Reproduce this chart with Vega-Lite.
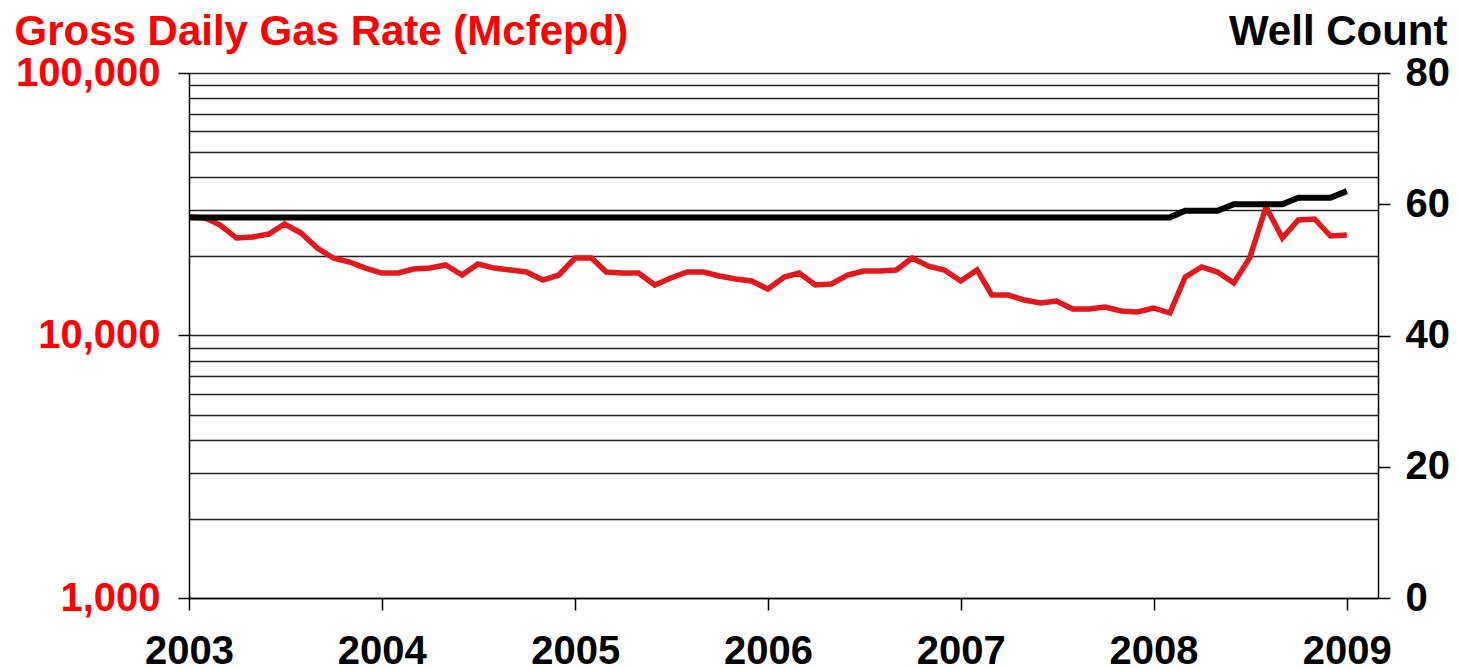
{
  "$schema": "https://vega.github.io/schema/vega-lite/v6.json",
  "width": 1189,
  "height": 525,
  "autosize": "none",
  "padding": {"left": 189, "top": 73, "right": 80, "bottom": 70},
  "background": "white",
  "config": {
    "view": {"stroke": null},
    "font": "Liberation Sans",
    "axis": {"labelFont": "Liberation Sans", "titleFont": "Liberation Sans", "domainColor": "black", "domainWidth": 1.5, "tickColor": "black", "tickWidth": 1.5}
  },
  "data": {
    "values": [
      {"month": "2003-01-01", "gas": 28270, "wells": 58},
      {"month": "2003-02-01", "gas": 28030, "wells": 58},
      {"month": "2003-03-01", "gas": 26360, "wells": 58},
      {"month": "2003-04-01", "gas": 23510, "wells": 58},
      {"month": "2003-05-01", "gas": 23720, "wells": 58},
      {"month": "2003-06-01", "gas": 24350, "wells": 58},
      {"month": "2003-07-01", "gas": 26600, "wells": 58},
      {"month": "2003-08-01", "gas": 24570, "wells": 58},
      {"month": "2003-09-01", "gas": 21540, "wells": 58},
      {"month": "2003-10-01", "gas": 19730, "wells": 58},
      {"month": "2003-11-01", "gas": 19050, "wells": 58},
      {"month": "2003-12-01", "gas": 18070, "wells": 58},
      {"month": "2004-01-01", "gas": 17300, "wells": 58},
      {"month": "2004-02-01", "gas": 17300, "wells": 58},
      {"month": "2004-03-01", "gas": 17920, "wells": 58},
      {"month": "2004-04-01", "gas": 18070, "wells": 58},
      {"month": "2004-05-01", "gas": 18560, "wells": 58},
      {"month": "2004-06-01", "gas": 17000, "wells": 58},
      {"month": "2004-07-01", "gas": 18730, "wells": 58},
      {"month": "2004-08-01", "gas": 18070, "wells": 58},
      {"month": "2004-09-01", "gas": 17760, "wells": 58},
      {"month": "2004-10-01", "gas": 17450, "wells": 58},
      {"month": "2004-11-01", "gas": 16270, "wells": 58},
      {"month": "2004-12-01", "gas": 17000, "wells": 58},
      {"month": "2005-01-01", "gas": 19730, "wells": 58},
      {"month": "2005-02-01", "gas": 19730, "wells": 58},
      {"month": "2005-03-01", "gas": 17450, "wells": 58},
      {"month": "2005-04-01", "gas": 17300, "wells": 58},
      {"month": "2005-05-01", "gas": 17300, "wells": 58},
      {"month": "2005-06-01", "gas": 15570, "wells": 58},
      {"month": "2005-07-01", "gas": 16560, "wells": 58},
      {"month": "2005-08-01", "gas": 17450, "wells": 58},
      {"month": "2005-09-01", "gas": 17450, "wells": 58},
      {"month": "2005-10-01", "gas": 16850, "wells": 58},
      {"month": "2005-11-01", "gas": 16410, "wells": 58},
      {"month": "2005-12-01", "gas": 16130, "wells": 58},
      {"month": "2006-01-01", "gas": 15030, "wells": 58},
      {"month": "2006-02-01", "gas": 16700, "wells": 58},
      {"month": "2006-03-01", "gas": 17300, "wells": 58},
      {"month": "2006-04-01", "gas": 15570, "wells": 58},
      {"month": "2006-05-01", "gas": 15710, "wells": 58},
      {"month": "2006-06-01", "gas": 17000, "wells": 58},
      {"month": "2006-07-01", "gas": 17610, "wells": 58},
      {"month": "2006-08-01", "gas": 17610, "wells": 58},
      {"month": "2006-09-01", "gas": 17760, "wells": 58},
      {"month": "2006-10-01", "gas": 19730, "wells": 58},
      {"month": "2006-11-01", "gas": 18370, "wells": 58},
      {"month": "2006-12-01", "gas": 17760, "wells": 58},
      {"month": "2007-01-01", "gas": 16130, "wells": 58},
      {"month": "2007-02-01", "gas": 17760, "wells": 58},
      {"month": "2007-03-01", "gas": 14260, "wells": 58},
      {"month": "2007-04-01", "gas": 14260, "wells": 58},
      {"month": "2007-05-01", "gas": 13650, "wells": 58},
      {"month": "2007-06-01", "gas": 13300, "wells": 58},
      {"month": "2007-07-01", "gas": 13530, "wells": 58},
      {"month": "2007-08-01", "gas": 12620, "wells": 58},
      {"month": "2007-09-01", "gas": 12620, "wells": 58},
      {"month": "2007-10-01", "gas": 12840, "wells": 58},
      {"month": "2007-11-01", "gas": 12400, "wells": 58},
      {"month": "2007-12-01", "gas": 12290, "wells": 58},
      {"month": "2008-01-01", "gas": 12730, "wells": 58},
      {"month": "2008-02-01", "gas": 12180, "wells": 58},
      {"month": "2008-03-01", "gas": 16700, "wells": 59},
      {"month": "2008-04-01", "gas": 18240, "wells": 59},
      {"month": "2008-05-01", "gas": 17450, "wells": 59},
      {"month": "2008-06-01", "gas": 15850, "wells": 60},
      {"month": "2008-07-01", "gas": 19730, "wells": 60},
      {"month": "2008-08-01", "gas": 30870, "wells": 60},
      {"month": "2008-09-01", "gas": 23510, "wells": 60},
      {"month": "2008-10-01", "gas": 27540, "wells": 61},
      {"month": "2008-11-01", "gas": 27790, "wells": 61},
      {"month": "2008-12-01", "gas": 23930, "wells": 61},
      {"month": "2009-01-01", "gas": 24150, "wells": 62}
    ]
  },
  "encoding": {
    "x": {
      "field": "month",
      "type": "temporal",
      "scale": {"type": "utc", "domain": [{"year": 2003, "month": 1, "date": 1, "utc": true}, {"year": 2009, "month": 3, "date": 1, "utc": true}]},
      "axis": {
        "title": null,
        "grid": false,
        "values": [
          {"year": 2003, "month": 1, "date": 1, "utc": true},
          {"year": 2004, "month": 1, "date": 1, "utc": true},
          {"year": 2005, "month": 1, "date": 1, "utc": true},
          {"year": 2006, "month": 1, "date": 1, "utc": true},
          {"year": 2007, "month": 1, "date": 1, "utc": true},
          {"year": 2008, "month": 1, "date": 1, "utc": true},
          {"year": 2009, "month": 1, "date": 1, "utc": true}
        ],
        "format": "%Y",
        "tickSize": 12,
        "labelPadding": 21,
        "labelFontSize": 40,
        "labelFontWeight": "bold",
        "labelColor": "black",
        "labelFlush": false,
        "labelOverlap": false
      }
    }
  },
  "layer": [
    {
      "mark": {"type": "line", "color": "#e3181d", "strokeWidth": 5.5, "clip": true},
      "encoding": {
        "y": {
          "field": "gas",
          "type": "quantitative",
          "scale": {"type": "log", "domain": [1000, 100000]},
          "axis": {
            "orient": "left",
            "title": "Gross Daily Gas Rate (Mcfepd)",
            "titleAngle": 0,
            "titleAlign": "left",
            "titleBaseline": "alphabetic",
            "titleX": -175,
            "titleY": -29,
            "titleFontSize": 42,
            "titleFontWeight": "bold",
            "titleColor": "#ff0000",
            "values": [1000, 2000, 3000, 4000, 5000, 6000, 7000, 8000, 9000, 10000, 20000, 30000, 40000, 50000, 60000, 70000, 80000, 90000, 100000],
            "labelExpr": "(datum.value == 1000 || datum.value == 10000 || datum.value == 100000) ? format(datum.value, ',') : ''",
            "grid": true,
            "gridColor": "#222222",
            "gridWidth": 1.3,
            "gridOpacity": 1,
            "tickSize": 11,
            "tickOpacity": {"condition": {"test": "datum.value == 1000 || datum.value == 10000 || datum.value == 100000", "value": 1}, "value": 0},
            "labelPadding": 18,
            "labelFontSize": 40,
            "labelFontWeight": "bold",
            "labelColor": "#ff0000",
            "labelFlush": false,
            "labelOverlap": false,
            "labelBaseline": "middle"
          }
        }
      }
    },
    {
      "mark": {"type": "line", "color": "black", "strokeWidth": 6, "clip": true},
      "encoding": {
        "y": {
          "field": "wells",
          "type": "quantitative",
          "scale": {"type": "linear", "domain": [0, 80], "nice": false, "zero": true},
          "axis": {
            "orient": "right",
            "title": "Well Count",
            "titleAngle": 0,
            "titleAlign": "right",
            "titleBaseline": "alphabetic",
            "titleX": 69,
            "titleY": -29,
            "titleFontSize": 42,
            "titleFontWeight": "bold",
            "titleColor": "black",
            "values": [0, 20, 40, 60, 80],
            "grid": false,
            "tickSize": 12,
            "labelPadding": 15,
            "labelFontSize": 40,
            "labelFontWeight": "bold",
            "labelColor": "black",
            "labelFlush": false,
            "labelOverlap": false,
            "labelBaseline": "middle"
          }
        }
      }
    }
  ],
  "resolve": {"scale": {"y": "independent"}}
}
